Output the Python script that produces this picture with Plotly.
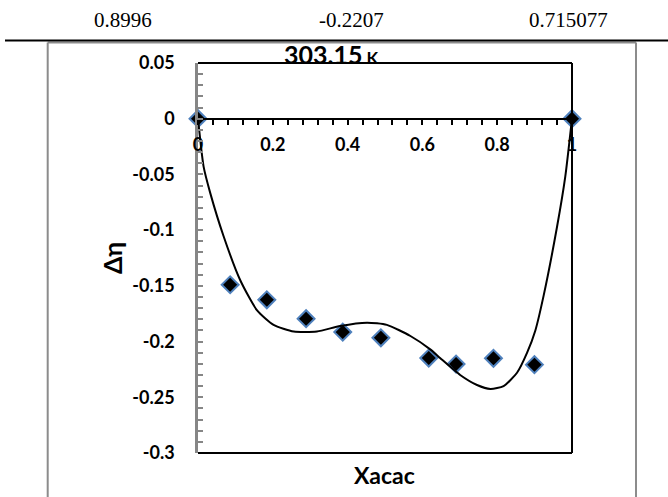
import plotly.graph_objects as go

# ---- data ----
x_data = [0.0, 0.086, 0.184, 0.289, 0.387, 0.489, 0.617, 0.690, 0.790, 0.8996, 1.0]
eta_data = [0.0, -0.149, -0.1625, -0.1795, -0.1915, -0.1966, -0.2148, -0.2202, -0.2150, -0.2207, 0.0]

fit_x = [0.0, 0.015, 0.033, 0.068, 0.113, 0.158, 0.202, 0.256, 0.318, 0.380, 0.452,
         0.505, 0.568, 0.621, 0.648, 0.701, 0.746, 0.782, 0.817, 0.853, 0.880,
         0.902, 0.924, 0.960, 0.982, 1.0]
fit_y = [0.0, -0.043, -0.067, -0.105, -0.145, -0.172, -0.185, -0.191, -0.191, -0.186, -0.183,
         -0.185, -0.195, -0.207, -0.215, -0.230, -0.239, -0.2425, -0.240, -0.228, -0.210,
         -0.190, -0.159, -0.097, -0.052, 0.0]

x_ticks = [0, 0.2, 0.4, 0.6, 0.8, 1]
x_ticktext = ["0", "0.2", "0.4", "0.6", "0.8", "1"]
y_ticks = [0.05, 0, -0.05, -0.1, -0.15, -0.2, -0.25, -0.3]
y_ticktext = ["0.05", "0", "-0.05", "-0.1", "-0.15", "-0.2", "-0.25", "-0.3"]
header_values = ["0.8996", "-0.2207", "0.715077"]

title_main = "303.15"
title_unit = "K"
x_title = "Xacac"
y_title = "Δη"

# ---- layout geometry (pixels) ----
W, H = 668, 497
L, R, T, B = 198, 96, 63, 44
PW, PH = W - L - R, H - T - B
Y_RANGE = [-0.3, 0.05]


def px(xpix):
    return (xpix - L) / PW


def py(ypix):
    return (H - B - ypix) / PH


FONT = "Lato"

fig = go.Figure()
fig.add_trace(go.Scatter(
    x=x_data, y=eta_data, mode="markers",
    marker=dict(symbol="diamond", size=13, color="black",
                line=dict(color="#4F81BD", width=2)),
    cliponaxis=False, showlegend=False, hoverinfo="skip"))
fig.add_trace(go.Scatter(
    x=fit_x, y=fit_y, mode="lines",
    line=dict(color="black", width=2, shape="spline", smoothing=0.6),
    cliponaxis=False, showlegend=False, hoverinfo="skip"))

zero_pos = (0 - Y_RANGE[0]) / (Y_RANGE[1] - Y_RANGE[0])

fig.update_layout(
    width=W, height=H,
    margin=dict(l=L, r=R, t=T, b=B, pad=0),
    paper_bgcolor="white", plot_bgcolor="white",
    showlegend=False,
    xaxis=dict(
        range=[0, 1], anchor="free", position=zero_pos,
        showgrid=False, zeroline=False,
        showline=True, linecolor="black", linewidth=2,
        tickmode="array", tickvals=x_ticks, ticktext=x_ticktext,
        ticks="outside", ticklen=5, tickwidth=1.5, tickcolor="black",
        minor=dict(tick0=0, dtick=0.04, ticks="outside", ticklen=5,
                   tickwidth=1.5, tickcolor="black"),
        tickfont=dict(family=FONT, size=18, color="black", weight="bold"),
        ticklabelstandoff=5,
    ),
    yaxis=dict(
        range=Y_RANGE,
        showgrid=False, zeroline=False,
        showline=True, linecolor="#868686", linewidth=2.5,
        tickmode="array", tickvals=y_ticks, ticktext=y_ticktext,
        ticks="inside", ticklen=5, tickwidth=1.5, tickcolor="#868686",
        minor=dict(tick0=0, dtick=0.01, ticks="inside", ticklen=5,
                   tickwidth=1.5, tickcolor="#868686"),
        tickfont=dict(family=FONT, size=18, color="black", weight="bold"),
        ticklabelstandoff=17,
    ),
)

shapes = []
# plot-area frame (top, right, bottom)
shapes.append(dict(type="line", xref="paper", yref="paper", x0=0, x1=1, y0=1, y1=1,
                   line=dict(color="black", width=2)))
shapes.append(dict(type="line", xref="paper", yref="paper", x0=1, x1=1, y0=0, y1=1,
                   line=dict(color="black", width=2)))
shapes.append(dict(type="line", xref="paper", yref="paper", x0=0, x1=1, y0=0, y1=0,
                   line=dict(color="black", width=2)))
# outer chart border (gray)
shapes.append(dict(type="line", xref="paper", yref="paper", x0=px(47.7), x1=px(636),
                   y0=py(42.5), y1=py(42.5), line=dict(color="#8c8c8c", width=2)))
shapes.append(dict(type="line", xref="paper", yref="paper", x0=px(47.7), x1=px(47.7),
                   y0=py(42.5), y1=py(500), line=dict(color="#8c8c8c", width=2)))
shapes.append(dict(type="line", xref="paper", yref="paper", x0=px(636), x1=px(636),
                   y0=py(42.5), y1=py(500), line=dict(color="#8c8c8c", width=2)))
# table rule
shapes.append(dict(type="line", xref="paper", yref="paper", x0=px(5), x1=px(668),
                   y0=py(40.5), y1=py(40.5), line=dict(color="black", width=2)))
fig.update_layout(shapes=shapes)

ann = []
for txt, cx in zip(header_values, [123, 351, 568]):
    ann.append(dict(text=txt, xref="paper", yref="paper", x=px(cx), y=py(20),
                    xanchor="center", yanchor="middle", showarrow=False,
                    font=dict(family="Liberation Serif", size=21, color="black")))
ann.append(dict(text=f"<b>{title_main}<span style='font-size:17px'> {title_unit}</span></b>",
                xref="paper", yref="paper", x=px(331), y=py(54),
                xanchor="center", yanchor="middle", showarrow=False,
                font=dict(family=FONT, size=25, color="black")))
ann.append(dict(text=f"<b>{y_title}</b>", xref="paper", yref="paper",
                x=px(112), y=py(258), xanchor="center", yanchor="middle",
                textangle=-90, showarrow=False,
                font=dict(family=FONT, size=25, color="black")))
ann.append(dict(text=f"<b>{x_title}</b>", xref="paper", yref="paper",
                x=px(384), y=py(475), xanchor="center", yanchor="middle",
                showarrow=False, font=dict(family=FONT, size=23, color="black")))
fig.update_layout(annotations=ann)

fig.write_html("out.html")
